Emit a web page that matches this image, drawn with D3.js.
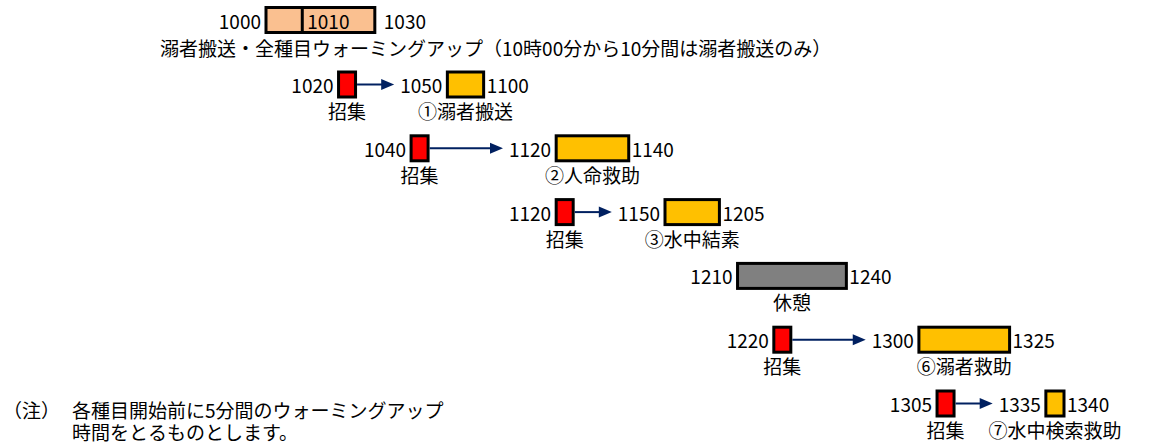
<!DOCTYPE html>
<html>
<head>
<meta charset="utf-8">
<script src="https://cdn.jsdelivr.net/npm/d3@7"></script>
<style>
  body { margin: 0; background: #fff; }
  text { font-family: "Noto Sans CJK JP", sans-serif; font-size: 19px; fill: #000; }
</style>
</head>
<body>
<svg id="chart" width="1154" height="444"></svg>
<script>
// warm-up block (top)
const warmupTimes = [1000, 1010, 1030];
const warmupTitle = '溺者搬送・全種目ウォーミングアップ（10時00分から10分間は溺者搬送のみ）';

// one row per event
const rowLabels  = ['①溺者搬送', '②人命救助', '③水中結素', '休憩', '⑥溺者救助', '⑦水中検索救助'];
const callTimes  = [1020, 1040, 1120, null, 1220, 1305];
const startTimes = [1050, 1120, 1150, 1210, 1300, 1335];
const endTimes   = [1100, 1140, 1205, 1240, 1325, 1340];
const callLabel  = '招集';

const noteHead  = '（注）';
const noteLines = ['各種目開始前に5分間のウォーミングアップ', '時間をとるものとします。'];

const BOX_H   = 25;
const CALL_W  = 17;
const GAP     = 5;
const STROKE  = 3;

const toMin = v => Math.floor(v / 100) * 60 + v % 100;
const fmt   = v => String(v);

const svg = d3.select('#chart');

const x = d3.scaleLinear()
    .domain([toMin(1000), toMin(1340)])
    .range([266, 1064]);

const y = d3.scaleLinear()
    .domain([0, rowLabels.length - 1])
    .range([84.5, 403.5]);

const TOP_Y = 20;

// --- warm-up block
const wg = svg.append('g');
wg.append('rect')
    .attr('x', x(toMin(warmupTimes[0])))
    .attr('y', TOP_Y - BOX_H / 2)
    .attr('width', x(toMin(warmupTimes[2])) - x(toMin(warmupTimes[0])))
    .attr('height', BOX_H)
    .attr('fill', '#FAC090')
    .attr('stroke', '#000')
    .attr('stroke-width', STROKE);
wg.append('line')
    .attr('x1', x(toMin(warmupTimes[1])))
    .attr('x2', x(toMin(warmupTimes[1])))
    .attr('y1', TOP_Y - BOX_H / 2)
    .attr('y2', TOP_Y + BOX_H / 2)
    .attr('stroke', '#000')
    .attr('stroke-width', STROKE);
wg.append('text')
    .attr('x', x(toMin(warmupTimes[0])) - GAP)
    .attr('y', TOP_Y)
    .attr('text-anchor', 'end')
    .attr('dominant-baseline', 'central')
    .text(fmt(warmupTimes[0]));
wg.append('text')
    .attr('x', x(toMin(warmupTimes[1])) + GAP)
    .attr('y', TOP_Y)
    .attr('dominant-baseline', 'central')
    .text(fmt(warmupTimes[1]));
wg.append('text')
    .attr('x', x(toMin(warmupTimes[2])) + GAP + 4)
    .attr('y', TOP_Y)
    .attr('dominant-baseline', 'central')
    .text(fmt(warmupTimes[2]));
wg.append('text')
    .attr('x', x(toMin(warmupTimes[0])) - 106)
    .attr('y', 47)
    .attr('dominant-baseline', 'central')
    .text(warmupTitle);

// --- event rows
rowLabels.forEach((label, i) => {
    const g = svg.append('g');
    const cy = y(i);
    const x0 = x(toMin(startTimes[i]));
    const x1 = x(toMin(endTimes[i]));
    const isBreak = callTimes[i] === null;

    // start label (left of main box)
    const startText = g.append('text')
        .attr('x', x0 - GAP)
        .attr('y', cy)
        .attr('text-anchor', 'end')
        .attr('dominant-baseline', 'central')
        .text(fmt(startTimes[i]));

    g.append('rect')
        .attr('x', x0)
        .attr('y', cy - BOX_H / 2)
        .attr('width', x1 - x0)
        .attr('height', BOX_H)
        .attr('fill', isBreak ? '#808080' : '#FFC000')
        .attr('stroke', '#000')
        .attr('stroke-width', STROKE);

    g.append('text')
        .attr('x', x1 + GAP - 2)
        .attr('y', cy)
        .attr('dominant-baseline', 'central')
        .text(fmt(endTimes[i]));

    g.append('text')
        .attr('x', (x0 + x1) / 2)
        .attr('y', cy + 26)
        .attr('text-anchor', 'middle')
        .attr('dominant-baseline', 'central')
        .text(label);

    if (isBreak) return;

    // call-up box
    const cx0 = x(toMin(callTimes[i]));
    g.append('rect')
        .attr('x', cx0)
        .attr('y', cy - BOX_H / 2)
        .attr('width', CALL_W)
        .attr('height', BOX_H)
        .attr('fill', '#FF0000')
        .attr('stroke', '#000')
        .attr('stroke-width', STROKE);
    g.append('text')
        .attr('x', cx0 - GAP)
        .attr('y', cy)
        .attr('text-anchor', 'end')
        .attr('dominant-baseline', 'central')
        .text(fmt(callTimes[i]));
    g.append('text')
        .attr('x', cx0 + CALL_W / 2)
        .attr('y', cy + 26)
        .attr('text-anchor', 'middle')
        .attr('dominant-baseline', 'central')
        .text(callLabel);

    // arrow from call-up to the start label
    const ax0 = cx0 + CALL_W + STROKE / 2;
    const ax1 = x0 - GAP - startText.node().getComputedTextLength() - 6;
    const head = 13;
    g.append('line')
        .attr('x1', ax0)
        .attr('x2', ax1 - head + 1)
        .attr('y1', cy)
        .attr('y2', cy)
        .attr('stroke', '#002060')
        .attr('stroke-width', 2);
    g.append('path')
        .attr('d', `M${ax1},${cy}L${ax1 - head},${cy - 5.5}L${ax1 - head},${cy + 5.5}Z`)
        .attr('fill', '#002060');
});

// --- note
const ng = svg.append('g');
ng.append('text')
    .attr('x', 3)
    .attr('y', 409)
    .attr('dominant-baseline', 'central')
    .text(noteHead);
noteLines.forEach((t, i) => {
    ng.append('text')
        .attr('x', 72)
        .attr('y', 409 + i * 22)
        .attr('dominant-baseline', 'central')
        .text(t);
});
</script>
</body>
</html>
